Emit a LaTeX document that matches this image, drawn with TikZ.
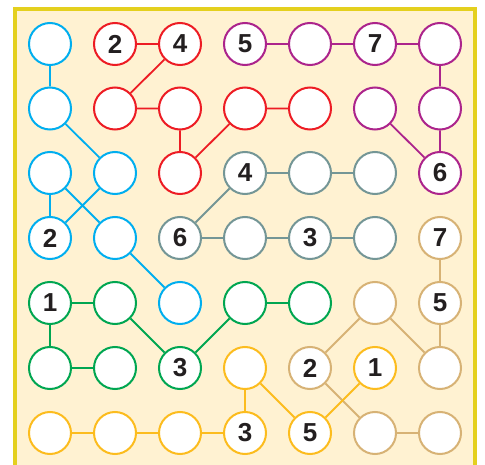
\documentclass[tikz,border=0pt]{standalone}
\usepackage{fontspec}
\setsansfont{Liberation Sans}
\usetikzlibrary{positioning}
\usepackage{xcolor}
\definecolor{Sky}{RGB}{0,174,239}
\definecolor{Scarlet}{RGB}{237,28,36}
\definecolor{Plum}{RGB}{172,36,140}
\definecolor{Slate}{RGB}{116,150,150}
\definecolor{Leaf}{RGB}{0,166,81}
\definecolor{Sand}{RGB}{215,178,117}
\definecolor{Gold}{RGB}{252,188,30}
\definecolor{Frame}{RGB}{228,208,30}
\definecolor{Cream}{RGB}{255,242,210}
\definecolor{Ink}{RGB}{35,31,32}
\tikzset{
  cell/.style={circle,draw,fill=white,line width=2pt,minimum size=42pt,
               inner sep=0pt,font=\fontsize{26}{26}\sffamily\bfseries,text=Ink},
  skyc/.style={cell,draw=Sky},
  redc/.style={cell,draw=Scarlet},
  plumc/.style={cell,draw=Plum},
  slatec/.style={cell,draw=Slate},
  leafc/.style={cell,draw=Leaf},
  sandc/.style={cell,draw=Sand},
  goldc/.style={cell,draw=Gold},
  link/.style={line width=1.8pt},
}
\begin{document}
\begin{tikzpicture}[x=1pt,y=-1pt]
  \useasboundingbox (0,0) rectangle (485,465);
  \fill[Cream] (15,9) rectangle (474.5,465);
  \draw[Frame,line width=4pt] (15,465) -- (15,9) -- (474.5,9) -- (474.5,465);
  % row 1
  \node[skyc]   (n11) at (50,44)  {};
  \node[redc]   (n21) at (115,44) {2};
  \node[redc]   (n31) at (180,44) {4};
  \node[plumc]  (n41) at (245,44) {5};
  \node[plumc]  (n51) at (310,44) {};
  \node[plumc]  (n61) at (375,44) {7};
  \node[plumc]  (n71) at (440,44) {};
  % row 2
  \node[skyc]   (n12) at (50,108.5)  {};
  \node[redc]   (n22) at (115,108.5) {};
  \node[redc]   (n32) at (180,108.5) {};
  \node[redc]   (n42) at (245,108.5) {};
  \node[redc]   (n52) at (310,108.5) {};
  \node[plumc]  (n62) at (375,108.5) {};
  \node[plumc]  (n72) at (440,108.5) {};
  % row 3
  \node[skyc]   (n13) at (50,173)  {};
  \node[skyc]   (n23) at (115,173) {};
  \node[redc]   (n33) at (180,173) {};
  \node[slatec] (n43) at (245,173) {4};
  \node[slatec] (n53) at (310,173) {};
  \node[slatec] (n63) at (375,173) {};
  \node[plumc]  (n73) at (440,173) {6};
  % row 4
  \node[skyc]   (n14) at (50,238)  {2};
  \node[skyc]   (n24) at (115,238) {};
  \node[slatec] (n34) at (180,238) {6};
  \node[slatec] (n44) at (245,238) {};
  \node[slatec] (n54) at (310,238) {3};
  \node[slatec] (n64) at (375,238) {};
  \node[sandc]  (n74) at (440,238) {7};
  % row 5
  \node[leafc]  (n15) at (50,303)  {1};
  \node[leafc]  (n25) at (115,303) {};
  \node[skyc]   (n35) at (180,303) {};
  \node[leafc]  (n45) at (245,303) {};
  \node[leafc]  (n55) at (310,303) {};
  \node[sandc]  (n65) at (375,303) {};
  \node[sandc]  (n75) at (440,303) {5};
  % row 6
  \node[leafc]  (n16) at (50,368)  {};
  \node[leafc]  (n26) at (115,368) {};
  \node[leafc]  (n36) at (180,368) {3};
  \node[goldc]  (n46) at (245,368) {};
  \node[sandc]  (n56) at (310,368) {2};
  \node[goldc]  (n66) at (375,368) {1};
  \node[sandc]  (n76) at (440,368) {};
  % row 7
  \node[goldc]  (n17) at (50,433)  {};
  \node[goldc]  (n27) at (115,433) {};
  \node[goldc]  (n37) at (180,433) {};
  \node[goldc]  (n47) at (245,433) {3};
  \node[goldc]  (n57) at (310,433) {5};
  \node[sandc]  (n67) at (375,433) {};
  \node[sandc]  (n77) at (440,433) {};
  % links
  \draw[link,Sky] (n11) -- (n12) (n12) -- (n23) (n13) -- (n14)
    (n13) -- (n24) (n23) -- (n14) (n24) -- (n35);
  \draw[link,Scarlet] (n21) -- (n31) (n31) -- (n22) (n22) -- (n32)
    (n32) -- (n33) (n33) -- (n42) (n42) -- (n52);
  \draw[link,Plum] (n41) -- (n51) (n51) -- (n61) (n61) -- (n71)
    (n71) -- (n72) (n72) -- (n73) (n62) -- (n73);
  \draw[link,Slate] (n43) -- (n53) (n53) -- (n63) (n43) -- (n34)
    (n34) -- (n44) (n44) -- (n54) (n54) -- (n64);
  \draw[link,Sand] (n74) -- (n75) (n75) -- (n76) (n65) -- (n76)
    (n65) -- (n56) (n56) -- (n67) (n67) -- (n77);
  \draw[link,Leaf] (n15) -- (n25) (n15) -- (n16) (n16) -- (n26)
    (n25) -- (n36) (n36) -- (n45) (n45) -- (n55);
  \draw[link,Gold] (n17) -- (n27) (n27) -- (n37) (n37) -- (n47)
    (n46) -- (n47) (n46) -- (n57) (n57) -- (n66);
\end{tikzpicture}
\end{document}
